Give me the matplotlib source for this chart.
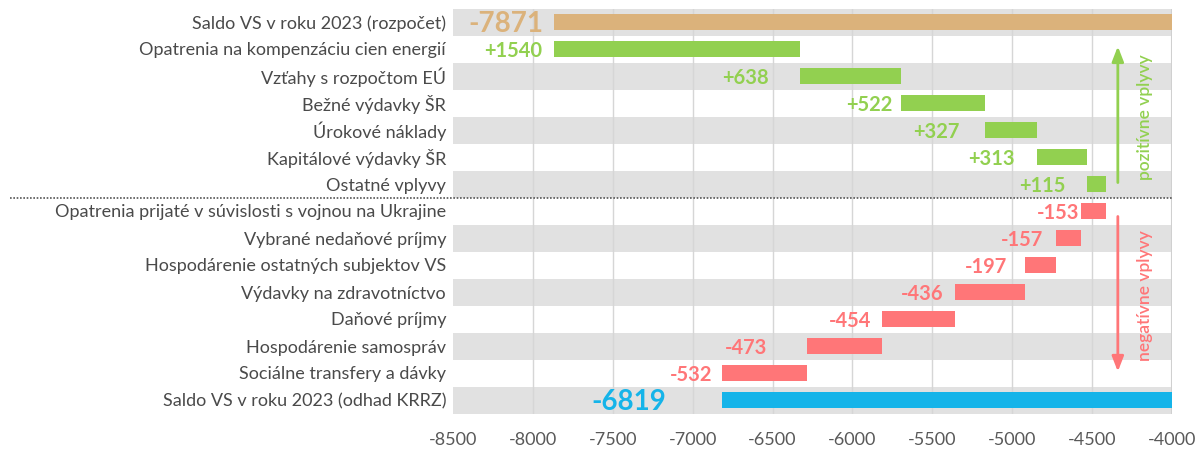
import matplotlib
matplotlib.use("Agg")
import matplotlib.pyplot as plt
from matplotlib.lines import Line2D

plt.rcParams['font.family'] = ['Lato', 'DejaVu Sans']

categories = [
    "Saldo VS v roku 2023 (rozpočet)",
    "Opatrenia na kompenzáciu cien energií",
    "Vzťahy s rozpočtom EÚ",
    "Bežné výdavky ŠR",
    "Úrokové náklady",
    "Kapitálové výdavky ŠR",
    "Ostatné vplyvy",
    "Opatrenia prijaté v súvislosti s vojnou na Ukrajine",
    "Vybrané nedaňové príjmy",
    "Hospodárenie ostatných subjektov VS",
    "Výdavky na zdravotníctvo",
    "Daňové príjmy",
    "Hospodárenie samospráv",
    "Sociálne transfery a dávky",
    "Saldo VS v roku 2023 (odhad KRRZ)",
]
start_value = -7871
changes = [1540, 638, 522, 327, 313, 115, -153, -157, -197, -436, -454, -473, -532]
end_value = -6819
x_min, x_max = -8500, -4000
x_ticks = [-8500, -8000, -7500, -7000, -6500, -6000, -5500, -5000, -4500, -4000]

TAN = "#DBB27B"
GREEN = "#92D050"
RED = "#FF7678"
CYAN = "#15B4E9"
BAND = "#E1E1E1"
GRID = "#D6D6D6"
TXT = "#4A4A4A"

# label gap to bar start, in pixels (layout)
label_gaps = [10, 11, 31, 9, 25, 22, 22, 2, 13, 17, 11, 11, 39, 9, 55]

fig = plt.figure(figsize=(11.95, 4.5), dpi=100)
ax = fig.add_axes([453 / 1195, 1 - 413.5 / 450, (1172 - 453) / 1195, (413.5 - 8.5) / 450])

n = len(categories)
for i in range(n):
    if i % 2 == 0:
        ax.axhspan(i - 0.5, i + 0.5, color=BAND, zorder=0, lw=0)

for xt in x_ticks[1:-1]:
    ax.axvline(xt, color=GRID, lw=1, zorder=1)
ax.axvline(x_max, color="#D0D0D0", lw=1.5, zorder=1)

bh = 0.62
lefts, widths, colors, texts = [], [], [], []
lefts.append(start_value); widths.append(x_max - start_value); colors.append(TAN); texts.append(f"{start_value}")
cur = start_value
for c in changes:
    if c > 0:
        lefts.append(cur); widths.append(c); colors.append(GREEN); texts.append(f"+{c}")
    else:
        lefts.append(cur + c); widths.append(-c); colors.append(RED); texts.append(f"{c}")
    cur += c
lefts.append(end_value); widths.append(x_max - end_value); colors.append(CYAN); texts.append(f"{end_value}")

ax.barh(range(n), widths, left=lefts, height=bh, color=colors, zorder=2)

for i in range(n):
    big = i == 0 or i == n - 1
    ax.annotate(texts[i], xy=(lefts[i], i), xytext=(-label_gaps[i] * 0.72, -1.5),
                textcoords="offset points", ha="right", va="center",
                fontsize=20 if big else 14.5, fontweight="bold",
                color=colors[i], zorder=3, annotation_clip=False)

ax.set_xlim(x_min, x_max)
ax.set_ylim(n - 0.5, -0.5)
ax.set_xticks(x_ticks)
ax.set_xticklabels([str(t) for t in x_ticks], fontsize=13, color="#595959")
ax.set_yticks(range(n))
ax.set_yticklabels(categories, fontsize=13, color=TXT)
ax.tick_params(axis="both", length=0)
ax.tick_params(axis="x", pad=13)
ax.tick_params(axis="y", pad=5)
for s in ax.spines.values():
    s.set_visible(False)

# arrows and side labels
ax_x = -4339
ax.annotate("", xy=(ax_x, 0.8), xytext=(ax_x, 6.05),
            arrowprops=dict(arrowstyle="-|>,head_width=0.35,head_length=0.9", color=GREEN, lw=2),
            zorder=4)
ax.annotate("", xy=(ax_x, 13.05), xytext=(ax_x, 7.1),
            arrowprops=dict(arrowstyle="-|>,head_width=0.35,head_length=0.9", color=RED, lw=2),
            zorder=4)
ax.text(-4169, 3.52, "pozitívne vplyvy", rotation=90, ha="center", va="center",
        color=GREEN, fontsize=12.5, fontweight="semibold", zorder=4)
ax.text(-4169, 10.15, "negatívne vplyvy", rotation=90, ha="center", va="center",
        color=RED, fontsize=12.5, fontweight="semibold", zorder=4)

# dotted separator
fig.add_artist(Line2D([10 / 1195, 1172 / 1195], [1 - 198 / 450, 1 - 198 / 450],
                      transform=fig.transFigure, color="#555555", lw=1.2, ls=(0, (1, 1))))

fig.savefig("out.png", dpi=100)
